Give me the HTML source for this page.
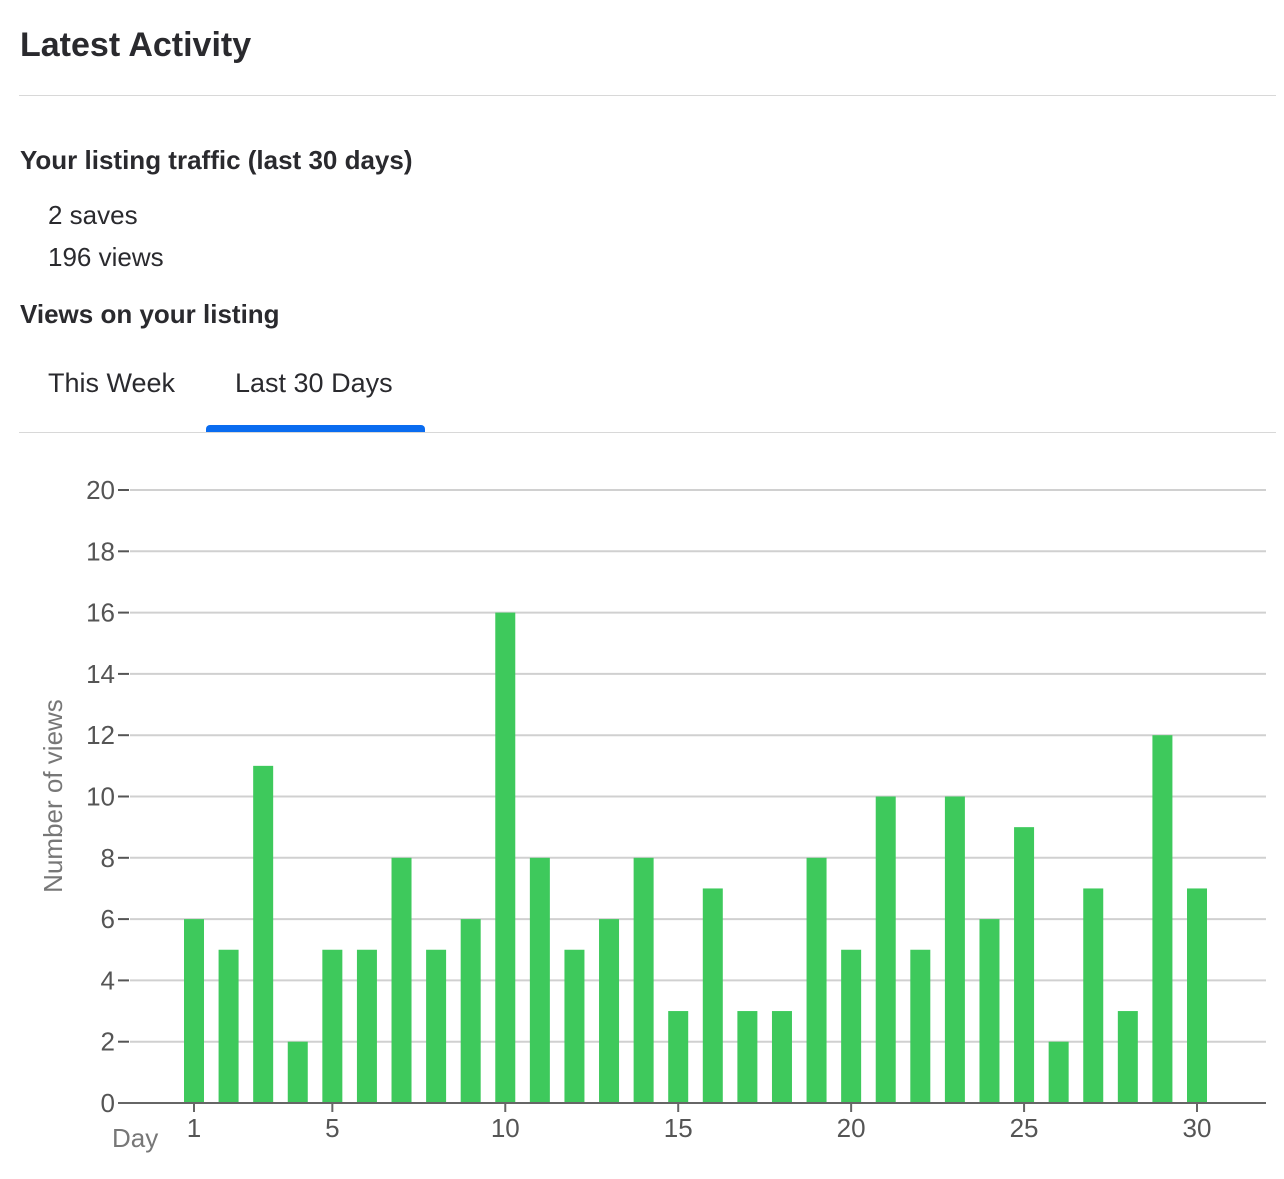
<!DOCTYPE html>
<html><head><meta charset="utf-8"><style>
body{margin:0;background:#fff;font-family:"Liberation Sans",sans-serif;color:#222;}
.wrap{position:relative;width:1284px;height:1179px;overflow:hidden}
h1{position:absolute;left:20px;top:26px;margin:0;font-size:34px;font-weight:bold;color:#2a2a2e}
.hr{position:absolute;left:19px;width:1257px;height:1px;background:#d8d8d8}
.h2{position:absolute;left:20px;margin:0;font-size:26px;font-weight:bold;color:#2a2a2e}
.t{position:absolute;left:48px;font-size:26px;color:#2a2a2e}
.tab{position:absolute;top:368px;font-size:27px;color:#2a2a2e}
</style></head><body><div class="wrap">
<h1>Latest Activity</h1>
<div class="hr" style="top:95px"></div>
<div class="h2" style="top:145px">Your listing traffic (last 30 days)</div>
<div class="t" style="top:200px">2 saves</div>
<div class="t" style="top:242px">196 views</div>
<div class="h2" style="top:299px">Views on your listing</div>
<div class="tab" style="left:48px">This Week</div>
<div class="tab" style="left:235px">Last 30 Days</div>
<div style="position:absolute;left:206px;top:425px;width:219px;height:7px;background:#0a6cf0;border-radius:4px 4px 0 0"></div>
<div class="hr" style="top:432px"></div>
<svg id="chart" width="1284" height="1179" style="position:absolute;left:0;top:0"></svg>
</div>
<script>
const days=[1,2,3,4,5,6,7,8,9,10,11,12,13,14,15,16,17,18,19,20,21,22,23,24,25,26,27,28,29,30];
const views=[6,5,11,2,5,5,8,5,6,16,8,5,6,8,3,7,3,3,8,5,10,5,10,6,9,2,7,3,12,7];
const yTicks=[0,2,4,6,8,10,12,14,16,18,20];
const xTicks=[1,5,10,15,20,25,30];
const svg=document.getElementById('chart');const NS='http://www.w3.org/2000/svg';
const y=v=>1103-v*(613/20);
const x=d=>194+(d-1)*(1003/29);
function mk(t,a){const e=document.createElementNS(NS,t);for(const k in a)e.setAttribute(k,a[k]);svg.appendChild(e);return e;}
yTicks.forEach(v=>{
 if(v>0){const g=mk('line',{x1:130,x2:1266,y1:y(v),y2:y(v),stroke:'#d0d0d0','stroke-width':2});
 
 }
 const tk=mk('line',{x1:118,x2:129,y1:y(v),y2:y(v),stroke:'#555','stroke-width':2});
 
 
 const l=mk('text',{x:115,y:y(v)+9,'text-anchor':'end','font-size':26,fill:'#555','font-family':'Liberation Sans,sans-serif'});
 l.textContent=v;
 
 
});
days.forEach((d,i)=>{
 const r=mk('rect',{x:x(d)-10,y:y(views[i]),width:20,height:1103-y(views[i]),fill:'#3ec95c'});
 
 
});
const ax=mk('line',{x1:118,x2:1266,y1:1103,y2:1103,stroke:'#666','stroke-width':2});


xTicks.forEach(d=>{
 const tk=mk('line',{x1:x(d),x2:x(d),y1:1104,y2:1112,stroke:'#666','stroke-width':2});
 
 
 const l=mk('text',{x:x(d),y:1137,'text-anchor':'middle','font-size':26,fill:'#555','font-family':'Liberation Sans,sans-serif'});
 l.textContent=d;
 
 
});
const xt=mk('text',{x:112,y:1147,'font-size':26,fill:'#777','font-family':'Liberation Sans,sans-serif'});
xt.textContent='Day';


const yt=mk('text',{x:0,y:0,'font-size':26,fill:'#777','text-anchor':'middle','font-family':'Liberation Sans,sans-serif',transform:'translate(62,796) rotate(-90)'});
yt.textContent='Number of views';


</script></body></html>
